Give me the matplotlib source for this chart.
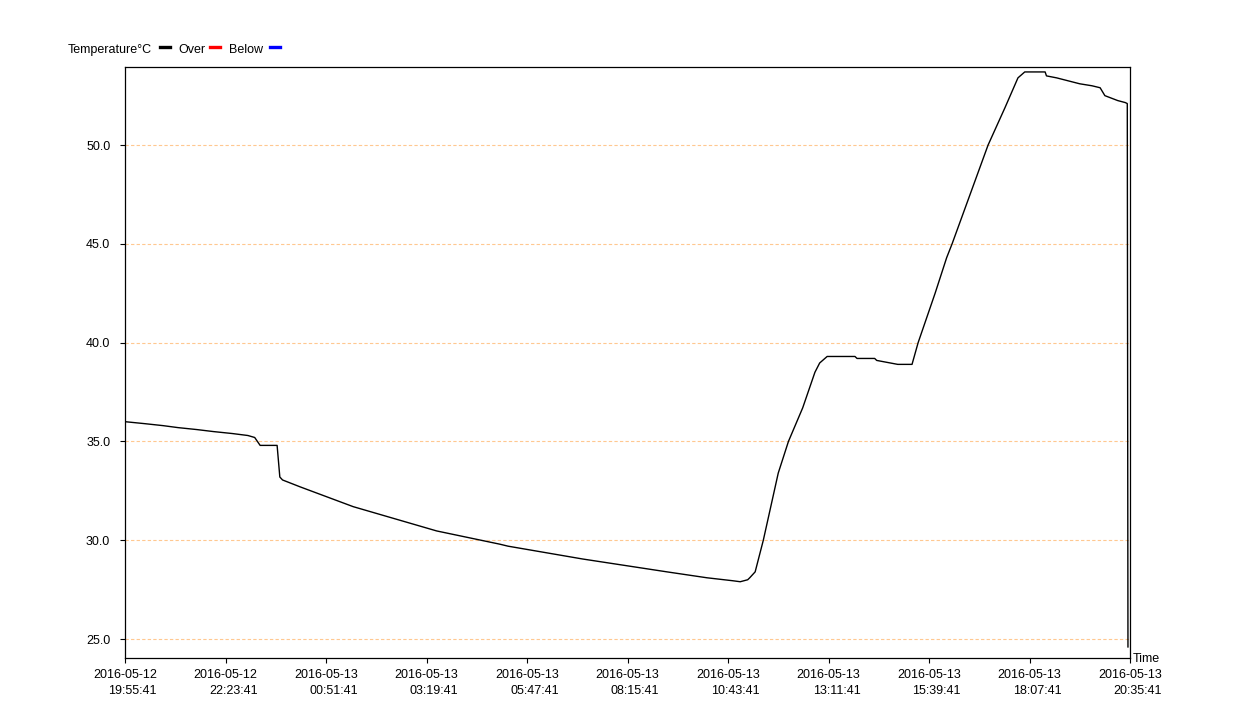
import pandas as pd
import matplotlib
matplotlib.use('Agg')
import matplotlib.pyplot as plt
from matplotlib.lines import Line2D

# Data: minutes since start, temperature in °C
start_time = pd.Timestamp('2016-05-12 19:55:41')
minutes = [0, 29, 56, 78, 106, 130, 158, 181, 191, 199, 224, 228, 232,
           258, 336, 459, 552, 564, 674, 798, 857, 895, 906, 917,
           920, 928, 940, 962, 977, 998, 1016, 1023, 1034,
           1075, 1078, 1104, 1107, 1138, 1159, 1168, 1193, 1210, 1218,
           1271, 1296, 1315, 1325, 1355, 1357, 1372, 1389, 1406, 1424,
           1436, 1443, 1462, 1473, 1476, 1477]
temps = [36.0, 35.9, 35.8, 35.7, 35.6, 35.5, 35.4, 35.3, 35.2, 34.8, 34.8, 33.2, 33.05,
         32.7, 31.7, 30.47, 29.8, 29.7, 29.05, 28.4, 28.1, 27.95, 27.9, 28.0,
         28.1, 28.4, 30.0, 33.4, 35.0, 36.7, 38.5, 38.97, 39.3,
         39.3, 39.2, 39.2, 39.1, 38.9, 38.9, 40.0, 42.5, 44.3, 45.0,
         50.0, 51.9, 53.4, 53.7, 53.7, 53.5, 53.4, 53.25, 53.1, 53.0,
         52.9, 52.5, 52.25, 52.15, 52.1, 24.6]

y_ticks = [25.0, 30.0, 35.0, 40.0, 45.0, 50.0]
tick_step_min = 148
n_ticks = 11

times = [start_time + pd.Timedelta(minutes=m) for m in minutes]
x_ticks = [start_time + pd.Timedelta(minutes=tick_step_min * i) for i in range(n_ticks)]
x_labels = [t.strftime('%Y-%m-%d\n%H:%M:%S') for t in x_ticks]

plt.rcParams['font.family'] = ['Liberation Sans', 'DejaVu Sans']

fig = plt.figure(figsize=(12.56, 7.24), dpi=100)
fig.patch.set_facecolor('white')
ax = fig.add_axes([125 / 1256, 1 - 658 / 724, 1005 / 1256, 591 / 724])

ax.plot(times, temps, color='black', linewidth=1.0)

ax.set_xlim(x_ticks[0], x_ticks[-1])
ax.set_ylim(24.04, 53.95)

ax.set_yticks(y_ticks)
ax.set_yticklabels(['%.1f' % v for v in y_ticks], fontsize=9)
ax.set_xticks(x_ticks)
ax.set_xticklabels(x_labels, fontsize=9, linespacing=1.45, multialignment='right')

ax.tick_params(axis='y', length=3.6, width=0.8, pad=7)
ax.tick_params(axis='x', length=3.6, width=0.8, pad=4.5)

# horizontal dashed grid
ax.set_axisbelow(True)
ax.grid(axis='y', color='#ffc890', linewidth=0.8, linestyle=(0, (3, 2)))

for s in ax.spines.values():
    s.set_linewidth(0.9)
    s.set_color('black')

# axis name
fig.text(1133 / 1256, 1 - 659 / 724, 'Time', fontsize=9, ha='left', va='center')

# legend row at the top
ly = 1 - 50 / 724
fig.text(68 / 1256, ly, 'Temperature°C', fontsize=9, ha='left', va='center')
fig.text(178 / 1256, ly, 'Over', fontsize=9, ha='left', va='center')
fig.text(229 / 1256, ly, 'Below', fontsize=9, ha='left', va='center')
dash_y = 1 - 47 / 724
for x0, col in [(160, 'black'), (210, 'red'), (270, 'blue')]:
    fig.add_artist(Line2D([x0 / 1256, (x0 + 10) / 1256], [dash_y, dash_y],
                          color=col, linewidth=2.4, transform=fig.transFigure))

fig.savefig('out.png', dpi=100, facecolor='white')
